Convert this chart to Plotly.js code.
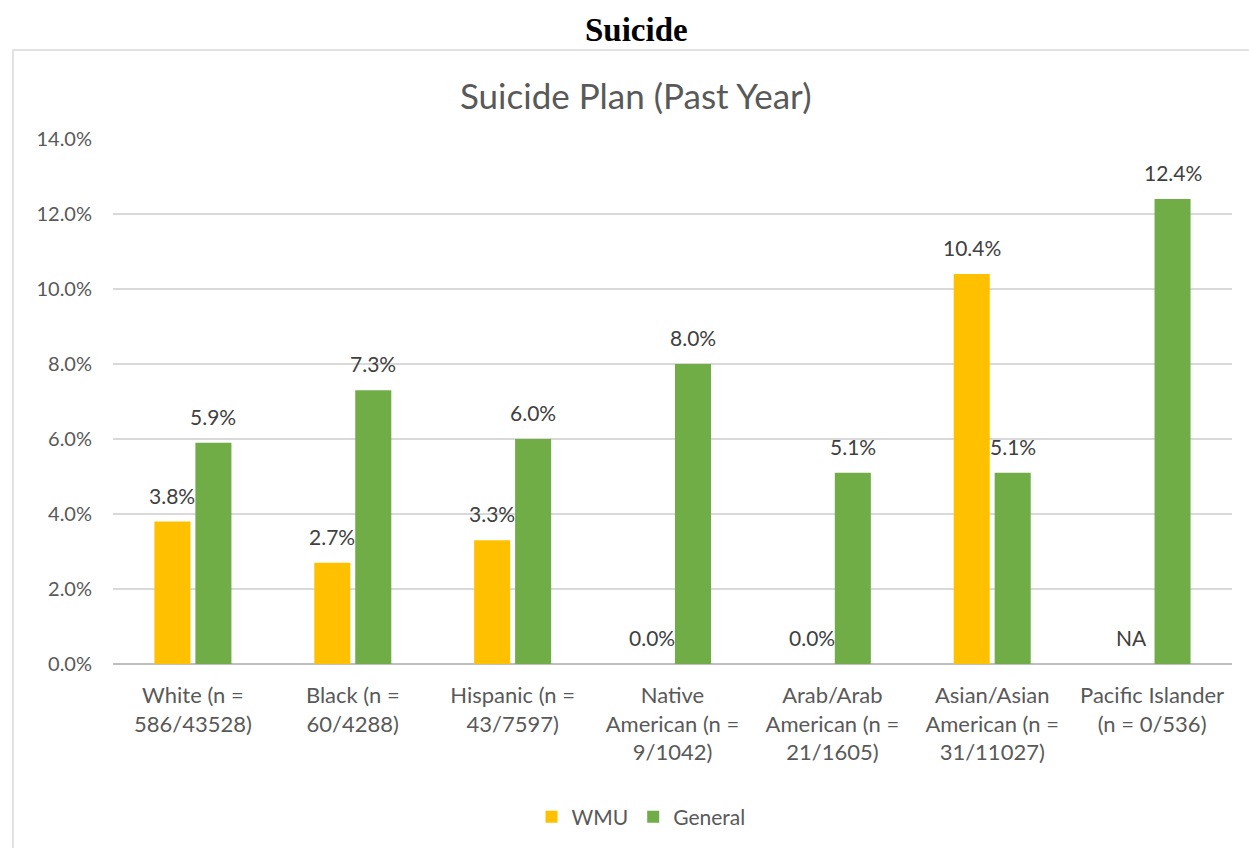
<!DOCTYPE html>
<html>
<head>
<meta charset="utf-8">
<script src="https://cdn.plot.ly/plotly-3.0.1.min.js"></script>
<style>
  html, body { margin: 0; padding: 0; background: #ffffff; }
  #chart { width: 1249px; height: 848px; }
</style>
</head>
<body>
<div id="chart"></div>
<script>
const categories = [
  "White (n =<br>586/43528)",
  "Black (n =<br>60/4288)",
  "Hispanic (n =<br>43/7597)",
  "Native<br>American (n =<br>9/1042)",
  "Arab/Arab<br>American (n =<br>21/1605)",
  "Asian/Asian<br>American (n =<br>31/11027)",
  "Pacific Islander<br>(n = 0/536)"
];
const wmuValues = [3.8, 2.7, 3.3, 0.0, 0.0, 10.4, 0];
const wmuLabels = ["3.8%", "2.7%", "3.3%", "0.0%", "0.0%", "10.4%", "NA"];
const generalValues = [5.9, 7.3, 6.0, 8.0, 5.1, 5.1, 12.4];
const generalLabels = ["5.9%", "7.3%", "6.0%", "8.0%", "5.1%", "5.1%", "12.4%"];
const yTicks = [0, 2, 4, 6, 8, 10, 12, 14];
const yTickLabels = ["0.0%", "2.0%", "4.0%", "6.0%", "8.0%", "10.0%", "12.0%", "14.0%"];

const FONT = "Lato, 'Open Sans', sans-serif";

const traces = [
  {
    type: "bar", name: "WMU", x: categories, y: wmuValues,
    marker: {color: "#FFC000"}, hoverinfo: "skip"
  },
  {
    type: "bar", name: "General", x: categories, y: generalValues,
    marker: {color: "#70AD47"}, hoverinfo: "skip"
  }
];

// value labels above each bar (group slot is 41 px wide, so bars sit at ±20.5 px)
function valueLabels(values, labels, shift) {
  return values.map((v, i) => ({
    x: categories[i], y: v, xref: "x", yref: "y",
    text: labels[i], showarrow: false,
    xanchor: "center", yanchor: "bottom", xshift: shift, yshift: 12,
    font: {family: FONT, size: 21, color: "#404040"}
  }));
}

const layout = {
  width: 1249, height: 848, autosize: false,
  margin: {l: 113, r: 17, t: 139, b: 184, autoexpand: false},
  paper_bgcolor: "#ffffff", plot_bgcolor: "#ffffff",
  font: {family: FONT, color: "#595959", size: 18},
  barmode: "group", bargap: 0.4875, bargroupgap: 0.12,
  showlegend: true,
  legend: {
    orientation: "h", x: (641 - 113) / 1119, xanchor: "center",
    y: (664 - 817) / 525, yanchor: "middle",
    font: {family: FONT, size: 21, color: "#595959"},
    itemwidth: 30, traceorder: "normal"
  },
  title: {
    text: "Suicide Plan (Past Year)",
    x: 0.509, xref: "container", xanchor: "center",
    y: 0.886, yref: "container", yanchor: "middle",
    font: {family: FONT, size: 35, color: "#595959"}
  },
  xaxis: {
    type: "category", showgrid: false, zeroline: false,
    showline: false, ticks: "", ticklabelstandoff: 16,
    tickfont: {family: FONT, size: 22, color: "#595959"},
    tickangle: 0, automargin: false, fixedrange: true
  },
  yaxis: {
    range: [0, 14], tickvals: yTicks, ticktext: yTickLabels,
    showgrid: true, gridcolor: "#d9d9d9", gridwidth: 1.3,
    zeroline: true, zerolinecolor: "#bfbfbf", zerolinewidth: 1.5,
    showline: false, ticks: "", ticklabelstandoff: 20,
    tickfont: {family: FONT, size: 20, color: "#595959"},
    automargin: false, fixedrange: true
  },
  annotations: [
    {
      text: "<b>Suicide</b>", xref: "paper", yref: "paper",
      x: (636 - 113) / 1119, y: (664 - 30) / 525, xanchor: "center", yanchor: "middle",
      showarrow: false,
      font: {family: "'Liberation Serif', 'DejaVu Serif', serif", size: 33, color: "#000000"}
    }
  ].concat(valueLabels(wmuValues, wmuLabels, -20.5), valueLabels(generalValues, generalLabels, 20.5)),
  shapes: [
    {
      type: "rect", xref: "paper", yref: "paper", layer: "below",
      x0: (13 - 113) / 1119, x1: 1.2,
      y0: -0.6, y1: (664 - 50) / 525,
      line: {color: "#d9d9d9", width: 1.5}, fillcolor: "rgba(0,0,0,0)"
    }
  ]
};

Plotly.newPlot("chart", traces, layout, {displayModeBar: false, staticPlot: true});
</script>
</body>
</html>
